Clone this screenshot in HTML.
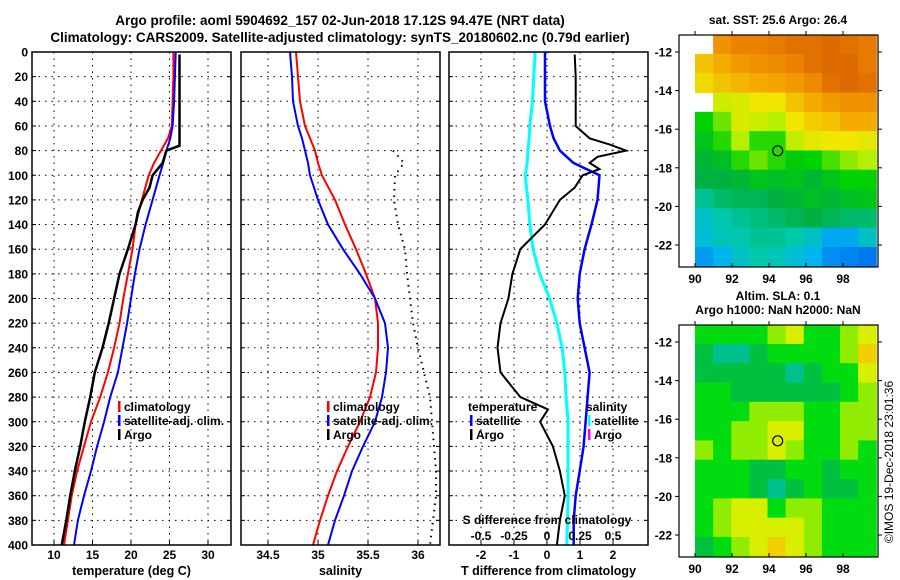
<!DOCTYPE html>
<html><head><meta charset="utf-8"><style>
html,body{margin:0;padding:0;background:#fff;width:900px;height:580px;overflow:hidden}
svg{font-family:"Liberation Sans",sans-serif;font-weight:bold}
</style></head><body>
<svg id="c" width="900" height="580">
<text x="340" y="25" text-anchor="middle" font-size="13.5">Argo profile: aoml 5904692_157 02-Jun-2018 17.12S 94.47E (NRT data)</text>
<text x="340" y="42" text-anchor="middle" font-size="13.5">Climatology: CARS2009. Satellite-adjusted climatology: synTS_20180602.nc (0.79d earlier)</text>
<text transform="translate(893,462) rotate(-90)" text-anchor="middle" font-size="12" font-weight="normal">©IMOS 19-Dec-2018 23:01:36</text>
</svg>
<script>
const depthTicks=[0,20,40,60,80,100,120,140,160,180,200,220,240,260,280,300,320,340,360,380,400];
const tTicks=[10,15,20,25,30];
const sTicks=[34.5,35,35.5,36];
const dTTicks=[-2,-1,0,1,2];
const dSTicks=[-0.5,-0.25,0,0.25,0.5];
const dSTickLabels=["-0.5","-0.25","0","0.25","0.5"];
const depths=[0,20,40,60,70,80,90,100,120,140,160,180,200,220,240,260,280,300,320,340,360,380,400];
const tempArgoDepth=[2,76,80,90,100,110,120,130,140,160,180,200,220,240,260,280,300,320,340,360,380,400];
const tempArgo=[26.3,26.3,24.6,24.1,22.8,22.4,21.5,20.9,20.6,19.6,18.5,17.8,17.1,16.3,15.3,14.7,14.0,13.4,12.7,12.1,11.6,11.0];
const tempClim=[25.5,25.5,25.4,25.3,24.8,23.9,23.0,22.3,21.4,20.6,20.2,19.6,19.0,18.5,17.8,17.0,16.0,14.8,13.9,13.0,12.3,11.8,11.3];
const tempSat=[25.8,25.7,25.6,25.4,25.1,24.6,24.2,23.7,22.8,21.9,21.1,20.5,20.0,19.5,18.9,18.3,17.3,16.5,15.6,14.8,13.9,13.1,12.6];
const salClim=[34.78,34.80,34.82,34.87,34.92,34.97,35.0,35.04,35.17,35.27,35.38,35.48,35.57,35.60,35.60,35.58,35.52,35.42,35.30,35.19,35.10,35.02,34.95];
const salSat=[34.72,34.74,34.75,34.80,34.84,34.87,34.90,34.92,35.0,35.10,35.25,35.42,35.57,35.67,35.70,35.68,35.64,35.57,35.45,35.34,35.26,35.17,35.10];
const salArgoDepth=[80,90,100,120,140,160,180,200,220,240,260,280,300,320,340,360,380,400];
const salArgo=[35.75,35.86,35.77,35.76,35.80,35.87,35.89,35.92,35.95,36.0,36.06,36.12,36.14,36.16,36.18,36.18,36.15,36.12];
const dTArgoDepth=[2,20,40,60,70,75,80,85,90,95,100,110,120,140,160,180,200,220,240,260,280,290,300,320,340,360,380,400];
const dTArgo=[0.84,0.87,0.87,0.87,1.29,1.89,2.4,1.53,1.29,1.59,1.08,0.84,0.39,-0.06,-0.81,-1.05,-1.17,-1.41,-1.5,-1.41,-0.81,0.03,-0.21,0.18,0.39,0.54,0.39,0.30];
const dTSat=[-0.06,-0.06,-0.06,0.09,0.2,0.39,0.8,1.59,1.53,1.35,1.14,0.99,0.93,0.99,1.14,1.29,1.23,1.17,1.11,0.99,0.87,0.81,0.81];
const dSSat=[-0.09,-0.1,-0.11,-0.13,-0.135,-0.145,-0.15,-0.165,-0.145,-0.13,-0.105,-0.055,0.02,0.075,0.115,0.135,0.145,0.16,0.16,0.16,0.16,0.155,0.15];
const lonTicks=[90,92,94,96,98];
const latTicks=[-12,-14,-16,-18,-20,-22];
const sstGrid=[
[null,27.3,27.5,27.5,27.6,27.7,27.7,27.8,27.7,27.6],
[26.8,27,27.2,27.3,27.4,27.5,27.7,27.8,27.8,27.6],
[26.6,26.8,26.9,27,27.1,27.2,27.4,27.7,27.8,27.7],
[null,26.2,26.3,26.5,26.5,26.8,27,27.2,27.3,27.3],
[25.5,25.8,26.3,26.2,26,26.5,26.7,26.8,27,27],
[25.3,25.6,26,25.6,25.6,26.1,26.4,26.5,26.5,26.4],
[25.1,25.2,25.6,25.8,25.6,25.4,25.5,25.7,25.9,26],
[25,25,25.1,25.3,25.2,25.3,25.1,25.3,25.5,25.5],
[24.6,24.8,24.9,24.9,25,25.1,25.2,25.1,25.2,25.3],
[24.3,24.5,24.6,24.7,24.8,24.9,25,24.9,24.8,24.8],
[24.2,24.4,24.5,24.6,24.6,24.5,24.3,23.9,23.9,24.3],
[23.8,24,24.3,24.5,24.4,24.2,24,23.7,23.6,23.5]];
const slaGrid=[
[2,2,2,2,3,4,2,2,3,4],[1,0,0,1,2,2,2,2,3,5],[1,1,1,1,1,0,1,2,2,4],[2,2,1,1,1,1,1,1,2,3],
[2,2,2,3,3,3,2,2,3,3],[2,2,3,3,4,4,2,2,3,3],[3,2,3,3,4,3,2,2,3,2],[2,2,2,1,1,2,2,1,2,2],
[2,2,2,1,0,1,2,1,1,2],[2,3,4,4,2,3,3,2,2,2],[2,3,4,4,4,4,3,2,2,2],[1,2,3,4,5,4,3,2,2,2]];
const argoLon=94.47, argoLat=-17.12;

const svg=document.getElementById('c');
const NS='http://www.w3.org/2000/svg';
function mk(tag,attrs,parent){const e=document.createElementNS(NS,tag);for(const k in attrs)e.setAttribute(k,attrs[k]);(parent||svg).appendChild(e);return e;}
function txt(x,y,s,size,anchor,parent){const e=mk('text',{x:x,y:y,'font-size':size,'text-anchor':anchor||'middle'},parent);e.textContent=s;return e;}
const Y0=52,Y1=545;
const yD=d=>Y0+(d/400)*(Y1-Y0);
function linScale(d0,d1,r0,r1){return v=>r0+(v-d0)/(d1-d0)*(r1-r0);}
const panels=[
 {x0:32,x1:231,sx:linScale(10,30,54,208),ticks:tTicks,labels:tTicks.map(String),label:'temperature (deg C)',name:'temperature-panel'},
 {x0:241,x1:440,sx:linScale(35,36,318,418),ticks:sTicks,labels:sTicks.map(String),label:'salinity',name:'salinity-panel'},
 {x0:449,x1:648,sx:linScale(0,2,547,613),ticks:dTTicks,labels:dTTicks.map(String),label:'T difference from climatology',name:'difference-panel'}];
panels.forEach((p,i)=>{
 const g=mk('g',{});
 
 
 depthTicks.forEach(d=>{const y=yD(d);
  if(d>0&&d<400)mk('line',{x1:p.x0,x2:p.x1,y1:y,y2:y,stroke:'#000','stroke-dasharray':'1.5,5'},g);
  mk('line',{x1:p.x0,x2:p.x0+4,y1:y,y2:y,stroke:'#000'},g);
  mk('line',{x1:p.x1-4,x2:p.x1,y1:y,y2:y,stroke:'#000'},g);
  if(i==0){const t=txt(28,y+4.5,String(d),12,'end',g);}
 });
 p.ticks.forEach((v,j)=>{const x=p.sx(v);
  mk('line',{x1:x,x2:x,y1:Y0,y2:Y1,stroke:'#000','stroke-dasharray':'1.5,5'},g);
  mk('line',{x1:x,x2:x,y1:Y1-4,y2:Y1,stroke:'#000'},g);
  txt(x,559,p.labels[j],12,'middle',g);
 });
 const xl=txt((p.x0+p.x1)/2,575,p.label,12.5,'middle',g);
 
 
 p.g=g;
});
function line(vals,ds,sx,color,w,name,dash){
 const pts=vals.map((v,k)=>sx(v).toFixed(1)+','+yD(ds[k]).toFixed(1)).join(' ');
 const e=mk('polyline',{points:pts,fill:'none',stroke:color,'stroke-width':w,'stroke-dasharray':dash||'none'});
 
 
}
const P=panels;
line(tempClim,depths,P[0].sx,'#ff0000',2,'temp-climatology-line');
line(tempSat,depths,P[0].sx,'#0000ff',2,'temp-satellite-line');
line(tempArgo,tempArgoDepth,P[0].sx,'#000',2.5,'temp-argo-line');
line(salClim,depths,P[1].sx,'#ff0000',2,'sal-climatology-line');
line(salSat,depths,P[1].sx,'#0000ff',2,'sal-satellite-line');
line(salArgo,salArgoDepth,P[1].sx,'#000',2,'sal-argo-line','1.5,5');
const sxS=linScale(0,0.5,547,613);
line(dSSat,depths,sxS,'#00ffff',3,'sal-diff-satellite-line');
line(dTSat,depths,P[2].sx,'#0000ff',2.5,'temp-diff-satellite-line');
line(dTArgo,dTArgoDepth,P[2].sx,'#000',2,'temp-diff-argo-line');
panels.forEach(p=>{const b=mk('rect',{x:p.x0,y:Y0,width:p.x1-p.x0,height:Y1-Y0,fill:'none',stroke:'#000','stroke-width':1.5});});
txt(547,524,'S difference from climatology',12,'middle');
dSTicks.forEach((v,j)=>txt(sxS(v),540,dSTickLabels[j],12,'middle'));
function legend(x,y,items,name){const g=mk('g',{});
 
 
 items.forEach((it,k)=>{const yy=y+k*14;
  if(it[1])mk('rect',{x:x,y:yy-10,width:2.5,height:11,fill:it[1]},g);
  txt(x+(it[1]?6:-2),yy,it[0],12,'start',g);});}
legend(118,411,[['climatology','#ff0000'],['satellite-adj. clim.','#0000ff'],['Argo','#000']],'temperature-legend');
legend(327,411,[['climatology','#ff0000'],['satellite-adj. clim.','#0000ff'],['Argo','#000']],'salinity-legend');
legend(470,411,[['temperature',null],['satellite','#0000ff'],['Argo','#000']],'diff-temperature-legend');
legend(588,411,[['salinity',null],['satellite','#00ffff'],['Argo','#ff00ff']],'diff-salinity-legend');
const lonX=linScale(90,98,695,843);
function sstColor(v){const stops=[[23.5,[0,120,240]],[24,[0,180,240]],[24.5,[0,200,170]],[25,[0,176,64]],[25.5,[0,210,0]],[26,[180,240,0]],[26.5,[240,230,0]],[27,[245,170,0]],[27.5,[236,130,0]],[28,[210,90,0]]];
 if(v<=stops[0][0])return 'rgb('+stops[0][1]+')';
 for(let i=1;i<stops.length;i++){if(v<=stops[i][0]){const a=stops[i-1],b=stops[i],t=(v-a[0])/(b[0]-a[0]);return 'rgb('+a[1].map((c,k)=>Math.round(c+(b[1][k]-c)*t)).join(',')+')';}}
 return 'rgb('+stops[stops.length-1][1]+')';}
const slaColors=['#00c090','#00c040','#00dc10','#90ec00','#d8f000','#f0d000'];
function map(top,bottom,grid,colorFn,title,name){
 const latY=linScale(-12,-22,top+17,top+210);
 const g=mk('g',{});
 
 
 grid.forEach((row,r)=>row.forEach((v,c)=>{if(v===null)return;
  const la0=-11.1-r, la1=la0-1;
  const x0=lonX(90+c*0.98), x1=lonX(90+(c+1)*0.98);
  const y0=Math.max(top,latY(la0)), y1=Math.min(bottom,latY(la1));
  const cell=mk('rect',{x:x0,y:y0,width:x1-x0+0.5,height:y1-y0+0.5,fill:colorFn(v)},g);
  
  
 }));
 mk('rect',{x:679,y:top,width:199,height:bottom-top,fill:'none',stroke:'#000','stroke-width':1.2},g);
 lonTicks.forEach(l=>{const x=lonX(l);mk('line',{x1:x,x2:x,y1:top,y2:top-4,stroke:'#000'},g);mk('line',{x1:x,x2:x,y1:bottom,y2:bottom-4,stroke:'#000'},g);txt(x,bottom+16,String(l),12,'middle',g);});
 latTicks.forEach(l=>{const y=latY(l);mk('line',{x1:679,x2:675,y1:y,y2:y,stroke:'#000'},g);mk('line',{x1:878,x2:882,y1:y,y2:y,stroke:'#000'},g);txt(672,y+4.5,String(l),12,'end',g);});
 const circ=mk('circle',{cx:lonX(argoLon),cy:latY(argoLat),r:5,fill:'none',stroke:'#000','stroke-width':1.2},g);
 
 
 title.forEach((t,k)=>txt(778,top-11-(title.length-1-k)*14,t,12,'middle',g));
}
map(35,267,sstGrid,sstColor,['sat. SST: 25.6 Argo: 26.4'],'sst-map');
map(325,557,slaGrid,v=>slaColors[v],['Altim. SLA: 0.1','Argo h1000: NaN h2000: NaN'],'sla-map');
</script>
</body></html>
